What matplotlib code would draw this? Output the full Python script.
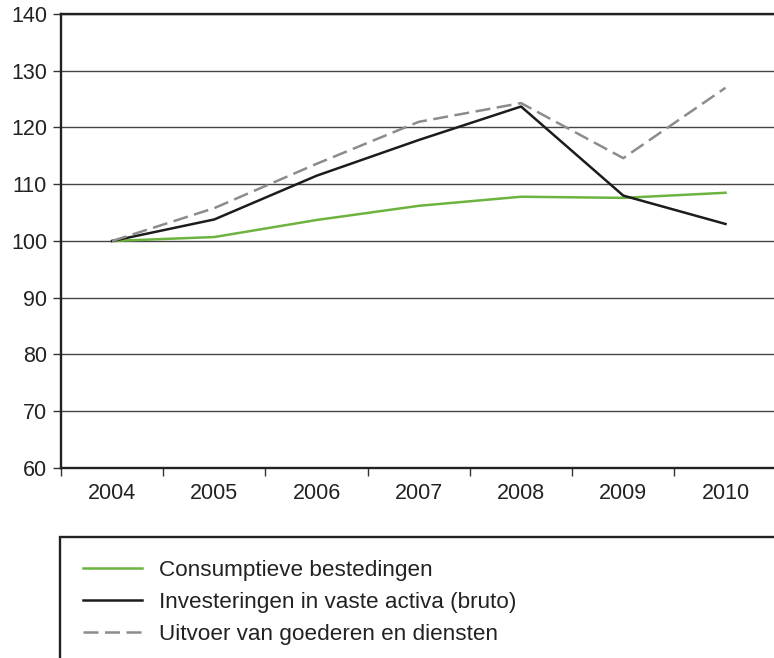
import matplotlib
matplotlib.use("Agg")
import matplotlib.pyplot as plt
from matplotlib.patches import Rectangle

years = [2004, 2005, 2006, 2007, 2008, 2009, 2010]
consumptie = [100, 100.7, 103.7, 106.2, 107.8, 107.6, 108.5]
investeringen = [100, 103.8, 111.5, 117.8, 123.7, 108.0, 103.0]
uitvoer = [100, 105.8, 113.6, 121.0, 124.3, 114.6, 127.0]
labels = ["Consumptieve bestedingen",
          "Investeringen in vaste activa (bruto)",
          "Uitvoer van goederen en diensten"]
yticks = [60, 70, 80, 90, 100, 110, 120, 130, 140]

plt.rcParams['font.family'] = ['Liberation Sans', 'DejaVu Sans']

W, H = 774, 658
fig = plt.figure(figsize=(W/100, H/100), dpi=100)
ax = fig.add_axes([61/W, 1-468/H, 1-61/W + 0.01, (468-14)/H])

green = '#6cb33f'
black = '#1c1c1c'
gray = '#8c8c8c'
fs = 15.5

l1, = ax.plot(years, consumptie, color=green, lw=1.8, label=labels[0], zorder=3)
l2, = ax.plot(years, investeringen, color=black, lw=1.8, label=labels[1], zorder=4)
l3, = ax.plot(years, uitvoer, color=gray, lw=1.8, linestyle=(0, (6, 2.6)), label=labels[2], zorder=5)

ax.set_ylim(60, 140)
ax.set_xlim(2003.5, 2010.55)
ax.set_yticks(yticks)
ax.set_yticklabels([str(v) for v in yticks], fontsize=fs, color='#222222')
ax.yaxis.grid(True, color='#444444', lw=1.0)
ax.set_axisbelow(True)
ax.tick_params(axis='y', length=6, width=1, color='#333333', pad=4)

ax.set_xticks(years)
ax.set_xticklabels([str(y) for y in years], fontsize=fs, color='#222222')
ax.tick_params(axis='x', which='major', length=0, pad=11)
ax.set_xticks([y + 0.5 for y in [2003] + years[:-1]], minor=True)
ax.tick_params(axis='x', which='minor', length=6, width=1, color='#333333')

for s in ['left', 'bottom', 'top']:
    ax.spines[s].set_linewidth(1.7)
    ax.spines[s].set_color('#222222')
ax.spines['right'].set_visible(False)

rect = Rectangle((60/W, -0.1), 1.2, (658-537)/H + 0.1, transform=fig.transFigure,
                 fill=False, edgecolor='#222222', lw=1.7, clip_on=False)
fig.patches.append(rect)
lfs = 16.2
leg = fig.legend(handles=[l1, l2, l3], labels=labels, loc='upper left',
                 bbox_to_anchor=(83/W, 1-560/H), frameon=False, fontsize=lfs,
                 handlelength=2.63, handletextpad=0.75, labelspacing=0.48,
                 borderaxespad=0, borderpad=0)
for t in leg.get_texts():
    t.set_color('#222222')

fig.savefig('out.png', dpi=100)
